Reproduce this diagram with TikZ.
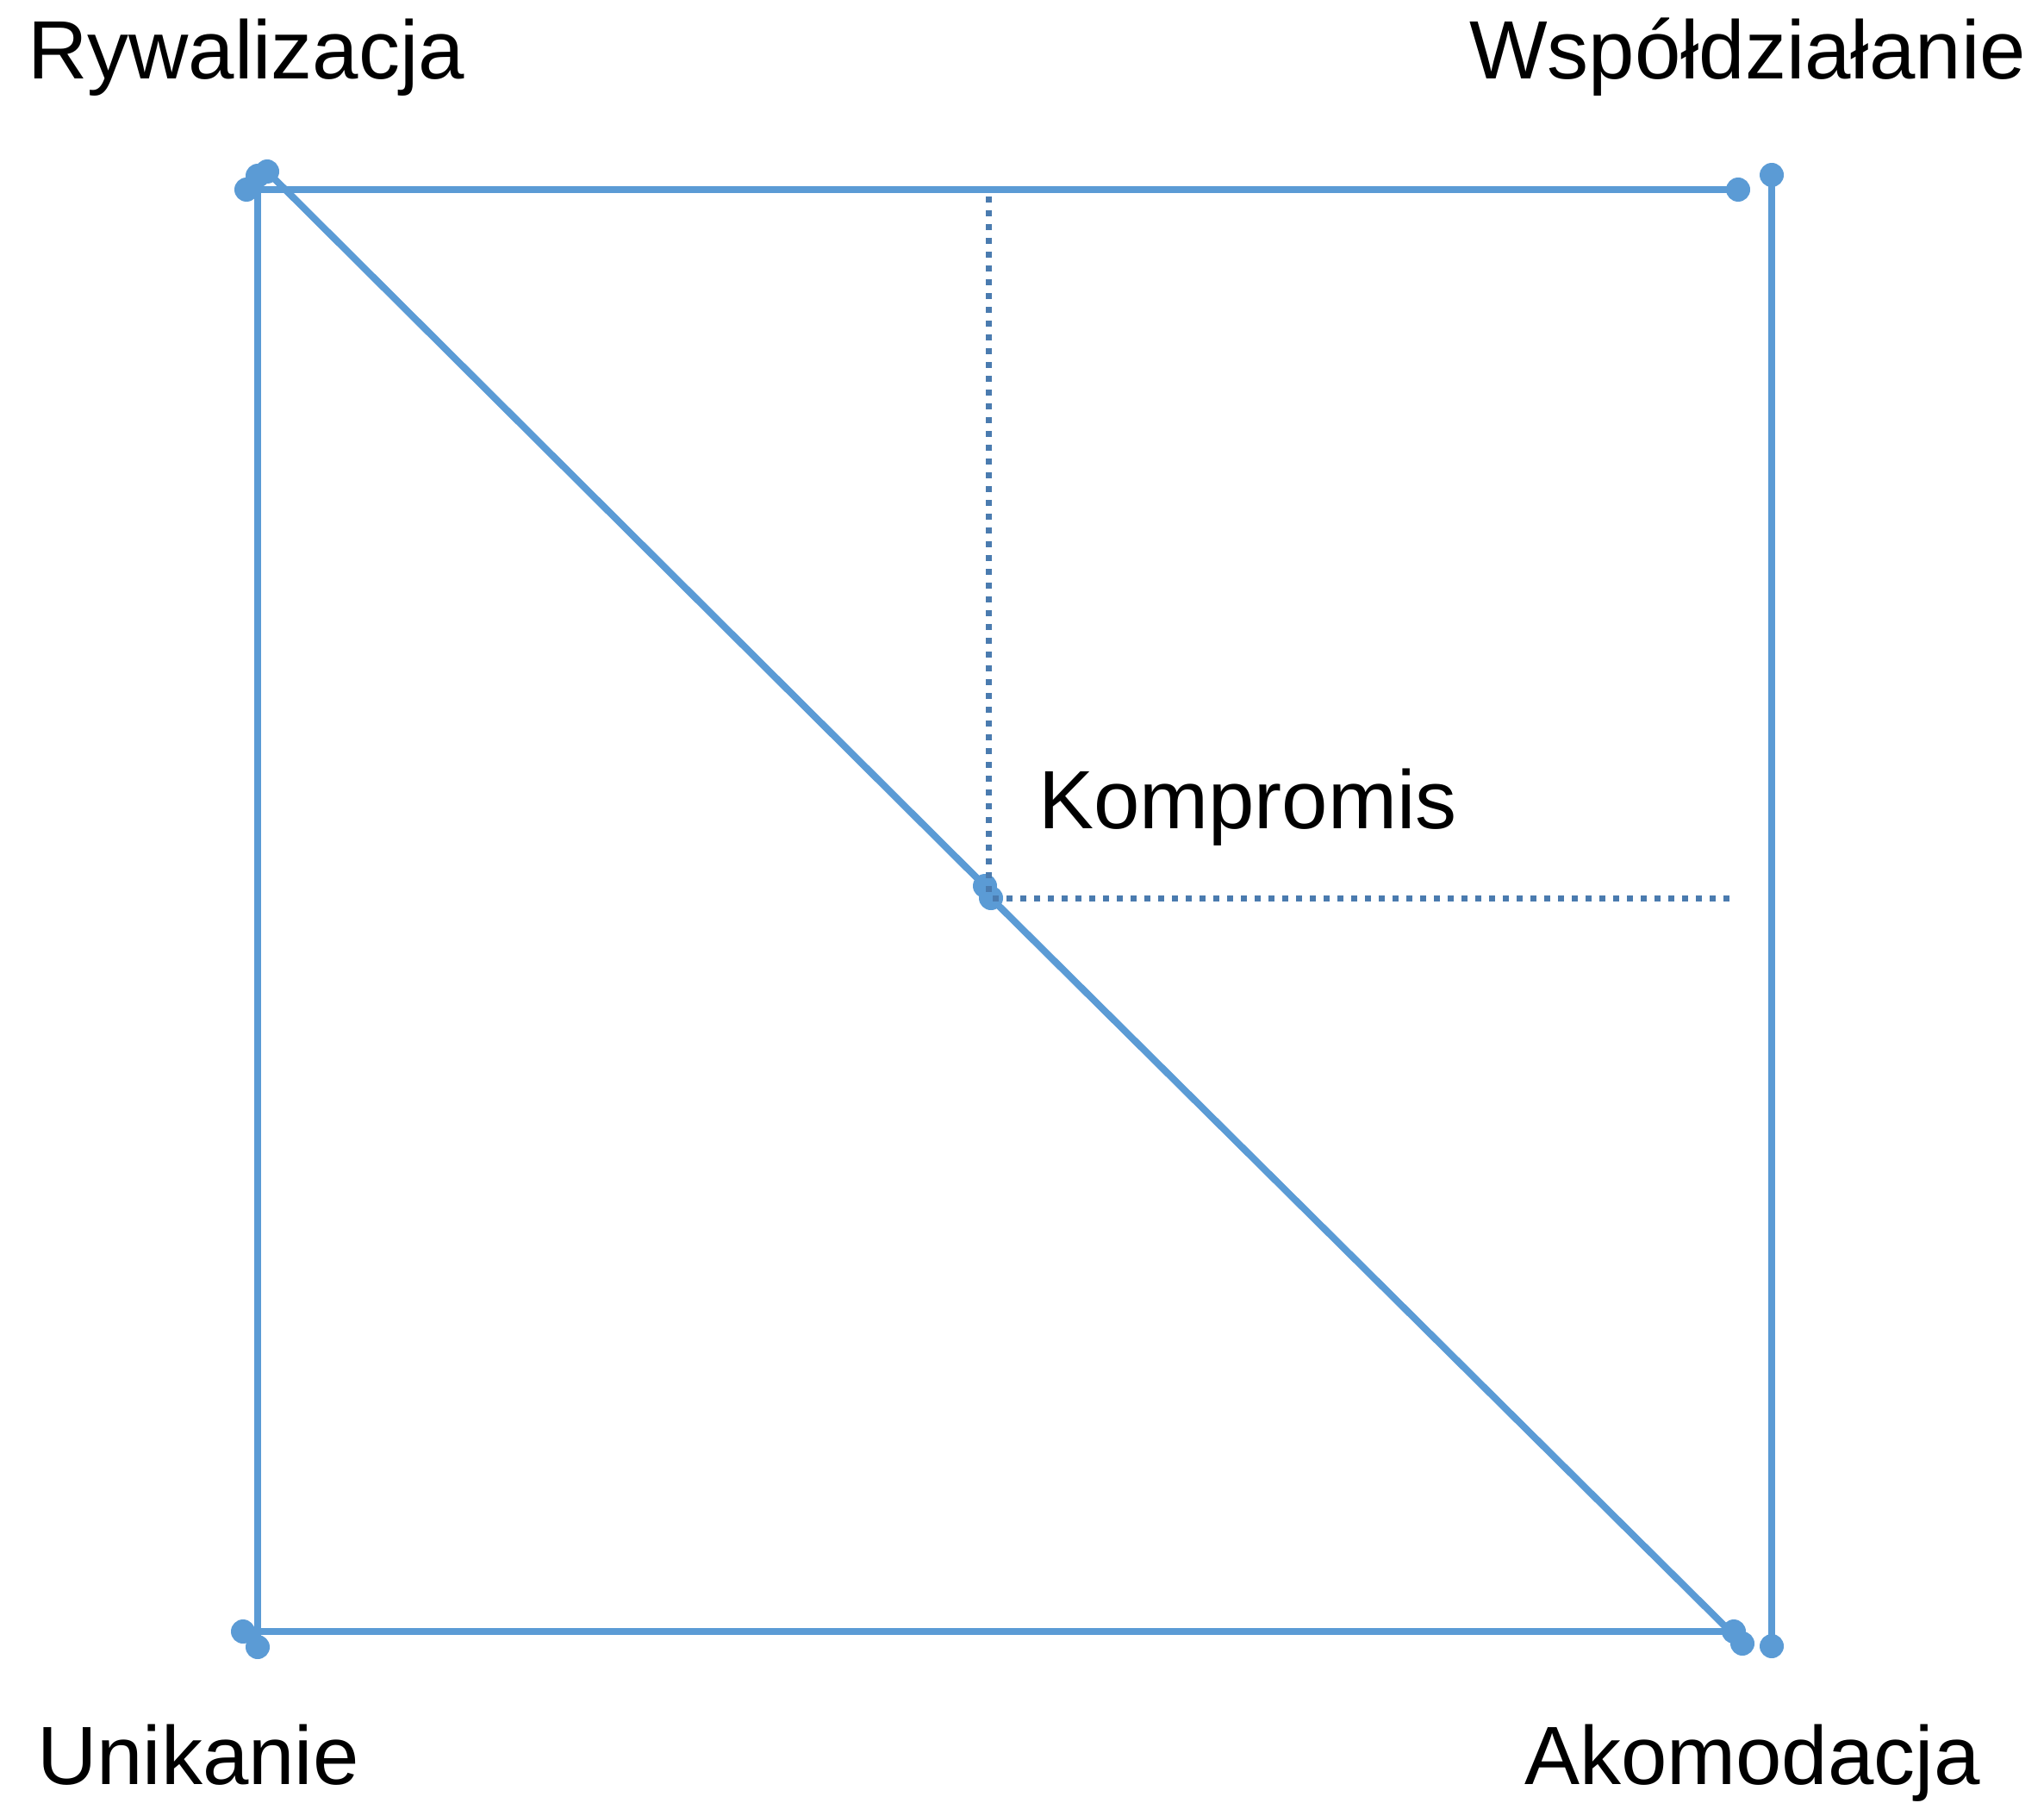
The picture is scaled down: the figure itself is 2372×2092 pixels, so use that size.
\documentclass[tikz,border=0pt]{standalone}
\usepackage{fontspec}
\setmainfont{Liberation Sans}
\definecolor{lineblue}{RGB}{91,155,213}
\definecolor{dotblue}{RGB}{74,123,175}
\begin{document}
\begin{tikzpicture}[x=1pt,y=-1pt,
  pt/.style={circle,fill=lineblue,inner sep=0pt,minimum size=28pt},
  seg/.style={draw=lineblue,line width=8pt},
  guide/.style={draw=dotblue,line width=7pt,dash pattern=on 7pt off 9pt},
  lbl/.style={inner sep=0pt,anchor=base west,font=\fontsize{96}{100}\selectfont}]
\useasboundingbox[fill=white] (0,0) rectangle (2372,2092);
% dots
\node[pt] (tlA) at (286,220) {};
\node[pt] (tlB) at (299,204) {};
\node[pt] (tlC) at (310,199) {};
\node[pt] (trI) at (2017,220) {};
\node[pt] (trJ) at (2056,203) {};
\node[pt] (blD) at (282,1893) {};
\node[pt] (blE) at (299,1911) {};
\node[pt] (brF) at (2012,1893) {};
\node[pt] (brG) at (2022,1907) {};
\node[pt] (brH) at (2056,1910) {};
\node[pt] (cK) at (1143,1028) {};
\node[pt] (cL) at (1150,1042) {};
\coordinate (vtop) at (1147,228);
\coordinate (vbot) at (1147,1036);
\coordinate (hleft) at (1152,1042);
\coordinate (hright) at (2010,1042);
% segments
\draw[seg] (tlA.center) -- (trI.center);
\draw[seg] (trJ.center) -- (brH.center);
\draw[seg] (tlB.center) -- (blE.center);
\draw[seg] (blD.center) -- (brF.center);
\draw[seg] (tlC.center) -- (cK.center);
\draw[seg] (cL.center) -- (brG.center);
% guides
\draw[guide] (vtop) -- (vbot);
\draw[guide] (hleft) -- (hright);
% labels
\node[lbl] (riv) at (32,92) {Rywalizacja};
\node[lbl] (wsp) at (1705,92) {Współdziałanie};
\node[lbl] (uni) at (43,2070) {Unikanie};
\node[lbl] (ako) at (1769,2070) {Akomodacja};
\node[lbl] (kom) at (1205,961) {Kompromis};
\end{tikzpicture}
\end{document}
